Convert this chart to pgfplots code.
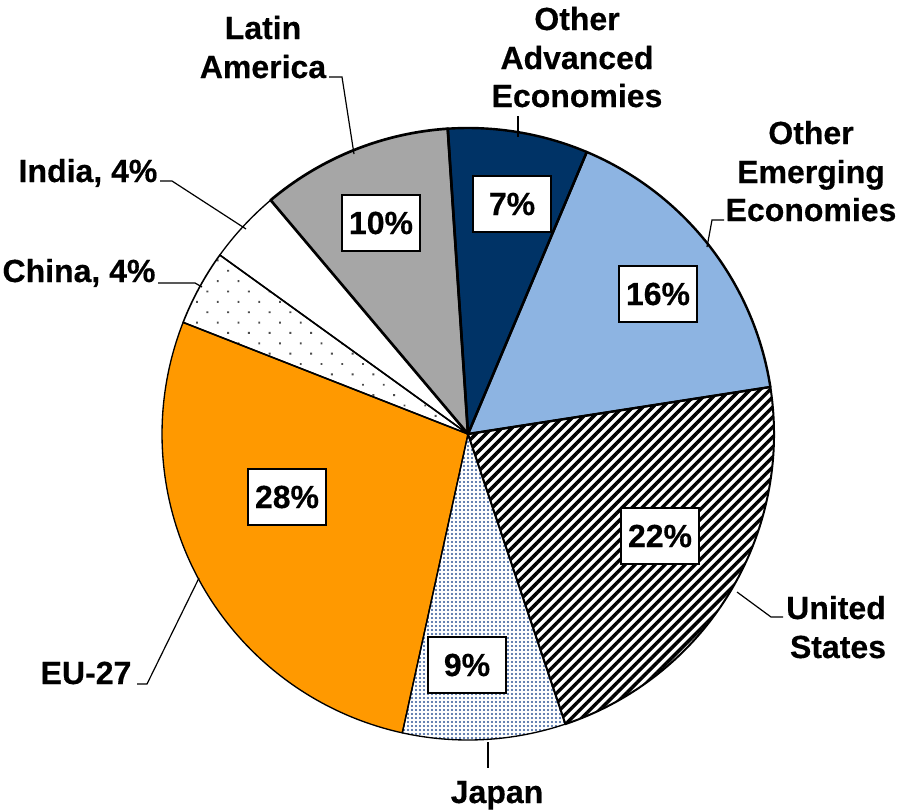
\documentclass[border=0pt]{standalone}
\usepackage{pgfplots}
\pgfplotsset{compat=1.18}
\usepackage{fontspec}
\setmainfont{Liberation Sans}[BoldFeatures={FakeBold=0.4}]
\usetikzlibrary{patterns.meta}
\definecolor{advblue}{RGB}{0,51,102}
\definecolor{emblue}{RGB}{141,180,226}
\definecolor{euorange}{RGB}{255,153,0}
\definecolor{lagray}{RGB}{166,166,166}
\definecolor{jpdot}{RGB}{47,85,151}
\tikzset{
 sl-adv/.style={fill=advblue},
 sl-em/.style={fill=emblue},
 sl-us/.style={preaction={fill=white}, pattern={Lines[angle=45,distance=5.3pt,line width=2.6pt]}, pattern color=black},
 sl-jp/.style={preaction={fill=white}, pattern={Dots[distance=3pt,radius=0.85pt]}, pattern color=jpdot},
 sl-eu/.style={fill=euorange},
 sl-cn/.style={preaction={fill=white}, pattern={Dots[angle=45,distance=11pt,radius=1pt]}, pattern color=black!70},
 sl-in/.style={fill=white},
 sl-la/.style={fill=lagray},
 pct/.style={draw=black, line width=1.4pt, fill=white, minimum width=58.5pt, minimum height=42pt, inner sep=0pt, font=\fontsize{24}{30}\selectfont\bfseries},
 lab/.style={anchor=base, inner sep=0pt, font=\fontsize{24}{30}\selectfont\bfseries},
 lead/.style={line width=0.9pt, black},
}
\begin{document}
\begin{tikzpicture}
\begin{axis}[
  name=ax,
  x=0.75pt, y=0.75pt, y dir=reverse,
  xmin=0, xmax=898, ymin=0, ymax=810,
  hide axis, clip=false,
]
% slices: share (%) / style / outline width (pt), clockwise from the top
\xdef\curang{93.8}
\foreach \v/\sty/\lw in {7.4/sl-adv/1.8, 16.2/sl-em/1.8, 22.3/sl-us/1.5, 8.6/sl-jp/1.0, 27.5/sl-eu/1.0, 4.0/sl-cn/1.2, 3.9/sl-in/1.0, 10.1/sl-la/2.0}{
  \pgfmathsetmacro\endang{\curang-3.6*\v}
  \edef\tmp{\noexpand\path[\sty] (axis cs:468,434) -- ++(\curang:229.5pt) arc[start angle=\curang, end angle=\endang, radius=229.5pt] -- cycle;}
  \tmp
  \xdef\curang{\endang}
}
\xdef\curang{93.8}
\foreach \v/\sty/\lw in {7.4/sl-adv/1.8, 16.2/sl-em/1.8, 22.3/sl-us/1.5, 8.6/sl-jp/1.0, 27.5/sl-eu/1.0, 4.0/sl-cn/1.2, 3.9/sl-in/1.0, 10.1/sl-la/2.0}{
  \pgfmathsetmacro\endang{\curang-3.6*\v}
  \edef\tmp{\noexpand\draw[line width=\lw pt, line join=round] (axis cs:468,434) -- ++(\curang:229.5pt) arc[start angle=\curang, end angle=\endang, radius=229.5pt] -- cycle;}
  \tmp
  \xdef\curang{\endang}
}
% percentage boxes
\node[pct] at (axis cs:381,223) {10\%};
\node[pct] at (axis cs:512,204) {7\%};
\node[pct] at (axis cs:658,294) {16\%};
\node[pct] at (axis cs:660,536) {22\%};
\node[pct] at (axis cs:467,665) {9\%};
\node[pct] at (axis cs:287,497) {28\%};
% outside labels
\node[lab] at (axis cs:263,39) {Latin};
\node[lab] at (axis cs:263,78) {America};
\node[lab] at (axis cs:577,30) {Other};
\node[lab] at (axis cs:577,69) {Advanced};
\node[lab] at (axis cs:577,107) {Economies};
\node[lab] at (axis cs:811,144) {Other};
\node[lab] at (axis cs:811,183) {Emerging};
\node[lab] at (axis cs:811,221) {Economies};
\node[lab] at (axis cs:88,182) {India, 4\%};
\node[lab] at (axis cs:79,282) {China, 4\%};
\node[lab] at (axis cs:86,684) {EU-27};
\node[lab] at (axis cs:497,803) {Japan};
\node[lab] at (axis cs:836,619) {United};
\node[lab] at (axis cs:838,658) {States};
% leader lines
\draw[lead] (axis cs:329,77) -- (axis cs:342,77) -- (axis cs:354,154);
\draw[lead] (axis cs:518,116) -- (axis cs:518,137);
\draw[lead] (axis cs:724,220) -- (axis cs:712,220) -- (axis cs:707,247);
\draw[lead] (axis cs:160,181) -- (axis cs:172,181) -- (axis cs:246,229);
\draw[lead] (axis cs:158,283) -- (axis cs:195,283) -- (axis cs:202,287);
\draw[lead] (axis cs:137,684) -- (axis cs:147,684) -- (axis cs:199,578);
\draw[lead] (axis cs:488,742) -- (axis cs:488,768);
\draw[lead] (axis cs:783,617) -- (axis cs:771,617) -- (axis cs:737,592);
\end{axis}
\pgfresetboundingbox
\useasboundingbox (ax.south west) rectangle (ax.north east);
\end{tikzpicture}
\end{document}
